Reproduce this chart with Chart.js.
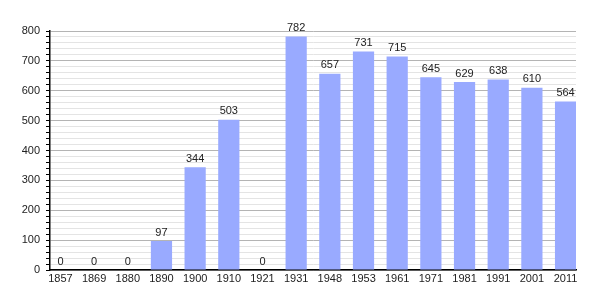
<!DOCTYPE html>
<html><head><meta charset="utf-8">
<script src="https://cdn.jsdelivr.net/npm/chart.js@4"></script>
<style>html,body{margin:0;padding:0;background:#fff}#wrap{width:605px;height:300px}</style>
</head><body><div id="wrap"><canvas id="c" width="605" height="300"></canvas></div>
<script>
const years = ["1857","1869","1880","1890","1900","1910","1921","1931","1948","1953","1961","1971","1981","1991","2001","2011"];
const population = [0,0,0,97,344,503,0,782,657,731,715,645,629,638,610,564];
const yMax = 800;
const yStep = 20;
const yLabelStep = 100;

const FONT = "'Liberation Sans', Arial, sans-serif";
Chart.defaults.font.family = FONT;
Chart.defaults.font.size = 11;
Chart.defaults.color = '#222';

const valueLabels = {
  id: 'valueLabels',
  afterDatasetsDraw(chart) {
    const ctx = chart.ctx;
    const meta = chart.getDatasetMeta(0);
    ctx.save();
    ctx.font = '11px ' + FONT;
    ctx.fillStyle = '#222';
    ctx.textAlign = 'center';
    ctx.textBaseline = 'bottom';
    meta.data.forEach((bar, i) => {
      ctx.fillText(String(population[i]), bar.x, bar.y - 3);
    });
    ctx.restore();
  }
};

new Chart(document.getElementById('c'), {
  type: 'bar',
  data: {
    datasets: [{
      data: population.map((v, i) => ({x: i, y: v})),
      backgroundColor: '#99aaff',
      borderWidth: 0,
      barPercentage: 0.63,
      categoryPercentage: 1
    }]
  },
  options: {
    responsive: false,
    animation: false,
    layout: {padding: {top: 31, right: 29, left: 0, bottom: 0}},
    plugins: {legend: {display: false}, tooltip: {enabled: false}},
    scales: {
      x: {
        type: 'linear',
        offset: false,
        min: -0.31,
        max: years.length - 1 + 0.31,
        afterBuildTicks(scale) { scale.ticks = years.map((y, i) => ({value: i})); },
        afterFit(scale) { scale.height = 30; },
        ticks: {
          autoSkip: false,
          maxRotation: 0,
          padding: 2,
          callback: (v) => years[v]
        },
        grid: {display: false, drawTicks: false, offset: false},
        border: {display: true, color: '#000', width: 1.5}
      },
      y: {
        min: 0, max: yMax,
        afterFit(scale) { scale.width = 50; },
        ticks: {
          stepSize: yStep,
          autoSkip: false,
          padding: 6,
          callback: (v) => (v % yLabelStep === 0 ? String(v) : '')
        },
        grid: {
          color: (c) => (c.tick && c.tick.value % yLabelStep === 0 ? '#b4b4b4' : '#e4e4e4'),
          tickColor: '#000',
          tickLength: 4,
          lineWidth: 1
        },
        border: {display: true, color: '#000', width: 1.5}
      }
    }
  },
  plugins: [valueLabels]
});
</script>
</body></html>
